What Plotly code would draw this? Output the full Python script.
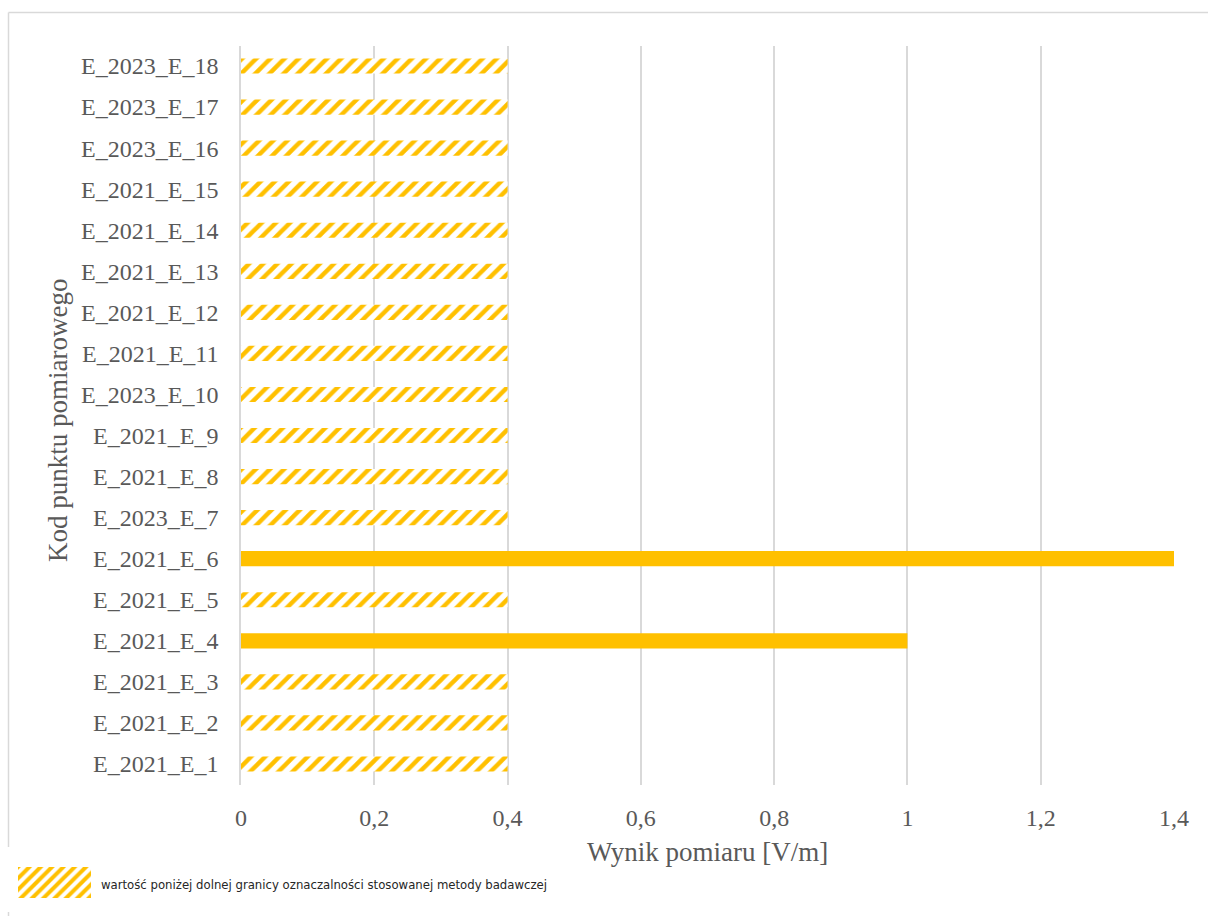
import plotly.graph_objects as go

# Measurement points (bottom to top) and results [V/m]
points = [
    "E_2021_E_1", "E_2021_E_2", "E_2021_E_3", "E_2021_E_4", "E_2021_E_5",
    "E_2021_E_6", "E_2023_E_7", "E_2021_E_8", "E_2021_E_9", "E_2023_E_10",
    "E_2021_E_11", "E_2021_E_12", "E_2021_E_13", "E_2021_E_14", "E_2021_E_15",
    "E_2023_E_16", "E_2023_E_17", "E_2023_E_18",
]
results = [0.4, 0.4, 0.4, 1.0, 0.4, 1.4, 0.4, 0.4, 0.4, 0.4,
           0.4, 0.4, 0.4, 0.4, 0.4, 0.4, 0.4, 0.4]
# True where the result is below the method's limit of quantification
below_loq = [True, True, True, False, True, False, True, True, True, True,
             True, True, True, True, True, True, True, True]

x_ticks = [0, 0.2, 0.4, 0.6, 0.8, 1, 1.2, 1.4]
x_tick_labels = ["0", "0,2", "0,4", "0,6", "0,8", "1", "1,2", "1,4"]

x_title = "Wynik pomiaru [V/m]"
y_title = "Kod punktu pomiarowego"
note_text = "wartość poniżej dolnej granicy oznaczalności stosowanej metody badawczej"

YELLOW = "#FFC000"
GRID = "#D9D9D9"
TEXT = "#595959"
SERIF = "Liberation Serif, Times New Roman, serif"

W, H = 1208, 916


def px_x(v):
    return v / W


def px_y(v):
    return 1 - v / H


measured_y = [p for p, b in zip(points, below_loq) if not b]
measured_x = [r for r, b in zip(results, below_loq) if not b]
loq_y = [p for p, b in zip(points, below_loq) if b]
loq_x = [r for r, b in zip(results, below_loq) if b]

fig = go.Figure()

fig.add_trace(go.Bar(
    y=measured_y, x=measured_x, orientation="h", width=0.37,
    marker=dict(color=YELLOW, line=dict(width=0)),
    showlegend=False, hoverinfo="x+y",
))
fig.add_trace(go.Bar(
    y=loq_y, x=loq_x, orientation="h", width=0.37,
    marker=dict(color="white", line=dict(width=0),
                pattern=dict(shape="/", fgcolor=YELLOW, bgcolor="white",
                             size=10, solidity=0.45, fillmode="replace")),
    showlegend=False, hoverinfo="x+y",
))

# Hatched key for the note below the chart
fig.add_trace(go.Bar(
    x=[0], y=[1], width=1, xaxis="x2", yaxis="y2",
    marker=dict(color="white", line=dict(width=0),
                pattern=dict(shape="/", fgcolor=YELLOW, bgcolor="white",
                             size=8, solidity=0.5, fillmode="replace")),
    showlegend=False, hoverinfo="skip",
))

fig.update_layout(
    width=W, height=H, autosize=False,
    margin=dict(l=0, r=0, t=0, b=0),
    paper_bgcolor="white", plot_bgcolor="white",
    barmode="overlay",
    showlegend=False,
    xaxis=dict(
        domain=[px_x(241), px_x(1174)], automargin=False,
        range=[0, 1.4], tickvals=x_ticks, ticktext=x_tick_labels,
        showgrid=True, gridcolor=GRID, gridwidth=1.5,
        zeroline=False, showline=False, ticks="",
        ticklabelstandoff=16,
        tickfont=dict(family=SERIF, size=24, color=TEXT),
        fixedrange=True,
    ),
    yaxis=dict(
        domain=[px_y(784.5), px_y(45.5)], automargin=False,
        categoryorder="array", categoryarray=points,
        range=[-0.5, len(points) - 0.5],
        showgrid=False, zeroline=False,
        showline=True, linecolor=GRID, linewidth=1.5,
        ticks="", ticklabelstandoff=16,
        tickfont=dict(family=SERIF, size=24, color=TEXT),
        fixedrange=True,
    ),
    xaxis2=dict(domain=[px_x(18), px_x(91)], range=[-0.5, 0.5], anchor="y2",
                visible=False, automargin=False, fixedrange=True),
    yaxis2=dict(domain=[px_y(898), px_y(867)], range=[0, 1], anchor="x2",
                visible=False, automargin=False, fixedrange=True),
    annotations=[
        dict(text=x_title, x=px_x(707), y=px_y(852), xref="paper", yref="paper",
             xanchor="center", yanchor="middle", showarrow=False,
             font=dict(family=SERIF, size=27, color=TEXT)),
        dict(text=y_title, x=px_x(58), y=px_y(421), xref="paper", yref="paper",
             xanchor="center", yanchor="middle", showarrow=False, textangle=-90,
             font=dict(family=SERIF, size=27, color=TEXT)),
        dict(text=note_text, x=px_x(99), y=px_y(884), xref="paper", yref="paper",
             xanchor="left", yanchor="middle", showarrow=False,
             font=dict(family="DejaVu Sans Condensed, Liberation Sans Narrow, sans-serif",
                       size=13, color="#262626")),
    ],
    shapes=[
        # chart frame
        dict(type="line", xref="paper", yref="paper", x0=px_x(8.5), x1=1,
             y0=px_y(12.5), y1=px_y(12.5), line=dict(color=GRID, width=1.5)),
        dict(type="line", xref="paper", yref="paper", x0=px_x(8.5), x1=px_x(8.5),
             y0=px_y(12.5), y1=px_y(847), line=dict(color=GRID, width=1.5)),
        dict(type="line", xref="paper", yref="paper", x0=px_x(8.5), x1=px_x(8.5),
             y0=px_y(912), y1=0, line=dict(color=GRID, width=1.5)),
    ],
)

fig.write_html("out.html")
